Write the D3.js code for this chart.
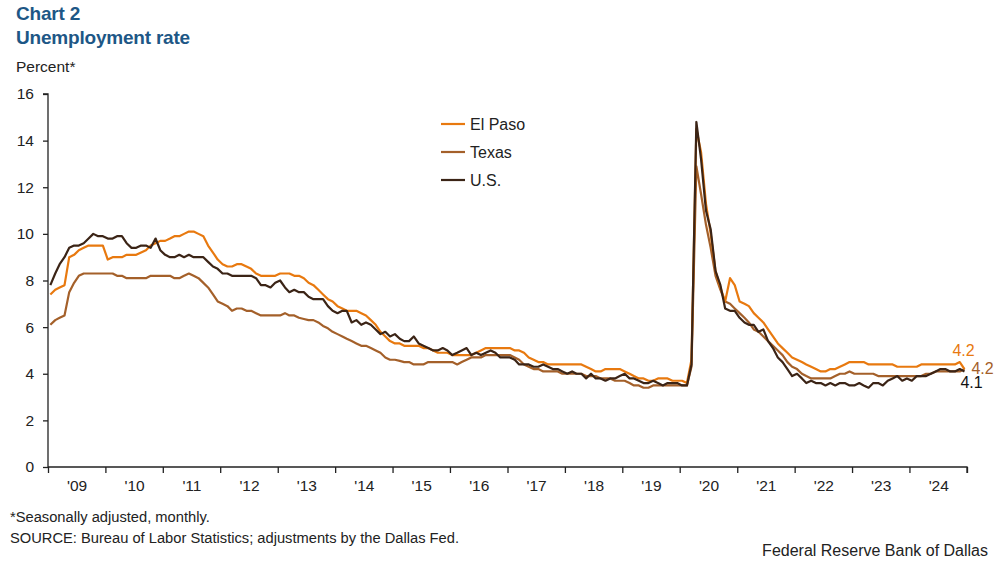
<!DOCTYPE html>
<html><head><meta charset="utf-8">
<script src="https://cdn.jsdelivr.net/npm/d3@7"></script>
<style>
html,body{margin:0;padding:0;background:#fff;}
svg{display:block;font-family:"Liberation Sans",Arial,sans-serif;}
</style></head>
<body><svg id="chart" width="997" height="565"></svg>
<script>
// ---- data (monthly, Jan 2009 – Dec 2024) ----
const startYear = 2009;
const yearLabels = ["'09","'10","'11","'12","'13","'14","'15","'16","'17","'18","'19","'20","'21","'22","'23","'24"];
const yTicks = [0,2,4,6,8,10,12,14,16];
const seriesNames = ["El Paso","Texas","U.S."];
const elPaso = [
7.4,7.6,7.7,7.8,9.0,9.1,9.3,9.4,9.5,9.5,9.5,9.5,
8.9,9.0,9.0,9.0,9.1,9.1,9.1,9.2,9.3,9.5,9.6,9.7,
9.7,9.8,9.9,9.9,10.0,10.1,10.1,10.0,9.9,9.5,9.2,8.9,
8.7,8.6,8.6,8.7,8.7,8.6,8.5,8.3,8.2,8.2,8.2,8.2,
8.3,8.3,8.3,8.2,8.2,8.1,7.9,7.8,7.6,7.4,7.2,7.1,
6.9,6.8,6.7,6.7,6.7,6.6,6.5,6.3,6.1,5.8,5.6,5.4,
5.3,5.3,5.2,5.2,5.2,5.2,5.1,5.1,5.0,4.9,4.9,4.9,
4.8,4.8,4.8,4.8,4.8,4.9,5.0,5.1,5.1,5.1,5.1,5.1,
5.1,5.0,5.0,4.9,4.7,4.6,4.5,4.5,4.4,4.4,4.4,4.4,
4.4,4.4,4.4,4.4,4.3,4.2,4.1,4.1,4.2,4.2,4.2,4.2,
4.1,4.0,3.9,3.8,3.8,3.7,3.7,3.8,3.8,3.8,3.7,3.7,
3.7,3.6,4.6,14.5,13.5,11.3,10.0,8.4,7.7,7.1,8.1,7.8,
7.1,7.0,6.9,6.6,6.4,6.2,5.9,5.6,5.3,5.1,4.9,4.7,
4.6,4.5,4.4,4.3,4.2,4.1,4.1,4.2,4.2,4.3,4.4,4.5,
4.5,4.5,4.5,4.4,4.4,4.4,4.4,4.4,4.4,4.3,4.3,4.3,
4.3,4.3,4.4,4.4,4.4,4.4,4.4,4.4,4.4,4.4,4.5,4.2];
const texas = [
6.1,6.3,6.4,6.5,7.5,7.9,8.2,8.3,8.3,8.3,8.3,8.3,
8.3,8.3,8.2,8.2,8.1,8.1,8.1,8.1,8.1,8.2,8.2,8.2,
8.2,8.2,8.1,8.1,8.2,8.3,8.2,8.1,7.9,7.7,7.4,7.1,
7.0,6.9,6.7,6.8,6.8,6.7,6.7,6.6,6.5,6.5,6.5,6.5,
6.5,6.6,6.5,6.5,6.4,6.35,6.3,6.3,6.2,6.05,5.95,5.8,
5.7,5.6,5.5,5.4,5.3,5.2,5.2,5.1,5.0,4.9,4.7,4.6,
4.6,4.55,4.5,4.5,4.4,4.4,4.4,4.5,4.5,4.5,4.5,4.5,
4.5,4.4,4.5,4.6,4.7,4.7,4.7,4.8,4.8,4.8,4.8,4.8,
4.8,4.7,4.6,4.4,4.3,4.2,4.2,4.1,4.1,4.1,4.1,4.0,
4.0,4.0,4.0,4.0,3.9,3.9,3.9,3.8,3.8,3.8,3.7,3.7,
3.7,3.6,3.5,3.5,3.4,3.4,3.5,3.5,3.5,3.5,3.5,3.5,
3.5,3.5,4.3,12.9,11.7,10.4,9.4,8.2,7.6,7.1,7.0,6.8,
6.6,6.4,6.2,5.9,5.8,5.6,5.4,5.2,5.0,4.8,4.5,4.3,
4.2,4.0,3.9,3.8,3.8,3.8,3.8,3.8,3.9,4.0,4.0,4.1,
4.0,4.0,4.0,4.0,4.0,3.9,3.9,3.9,3.9,3.9,3.9,3.9,
3.9,3.9,3.9,4.0,4.0,4.1,4.1,4.1,4.1,4.1,4.1,4.2];
const us = [
7.8,8.3,8.7,9.0,9.4,9.5,9.5,9.6,9.8,10.0,9.9,9.9,
9.8,9.8,9.9,9.9,9.6,9.4,9.4,9.5,9.5,9.4,9.8,9.3,
9.1,9.0,9.0,9.1,9.0,9.1,9.0,9.0,9.0,8.8,8.6,8.5,
8.3,8.3,8.2,8.2,8.2,8.2,8.2,8.1,7.8,7.8,7.7,7.9,
8.0,7.7,7.5,7.6,7.5,7.5,7.3,7.2,7.2,7.2,6.9,6.7,
6.6,6.7,6.7,6.2,6.3,6.1,6.2,6.1,5.9,5.7,5.8,5.6,
5.7,5.5,5.4,5.4,5.6,5.3,5.2,5.1,5.0,5.0,5.1,5.0,
4.8,4.9,5.0,5.1,4.8,4.9,4.8,4.9,5.0,4.9,4.7,4.7,
4.7,4.6,4.4,4.4,4.4,4.3,4.3,4.4,4.3,4.2,4.2,4.1,
4.0,4.1,4.0,4.0,3.8,4.0,3.8,3.8,3.7,3.8,3.8,3.9,
4.0,3.8,3.8,3.7,3.6,3.6,3.7,3.6,3.5,3.6,3.6,3.6,
3.5,3.5,4.4,14.8,13.2,11.0,10.2,8.4,7.8,6.8,6.7,6.7,
6.4,6.2,6.1,6.1,5.8,5.9,5.4,5.1,4.7,4.5,4.2,3.9,
4.0,3.8,3.6,3.7,3.6,3.6,3.5,3.6,3.5,3.6,3.6,3.5,
3.5,3.6,3.5,3.4,3.6,3.6,3.5,3.7,3.8,3.9,3.7,3.8,
3.7,3.9,3.9,3.9,4.0,4.1,4.2,4.2,4.1,4.1,4.2,4.1];
const colors = ["#E8790F","#A4602A","#3B2416"];

// ---- layout ----
const svg = d3.select("#chart");
const m = {left:48, right:967, top:94, bottom:467};
const x = d3.scaleTime().domain([new Date(startYear,0,1), new Date(startYear+yearLabels.length,0,1)]).range([m.left,m.right]);
const y = d3.scaleLinear().domain([0,16]).range([m.bottom,m.top]);
const dateOf = i => new Date(startYear + Math.floor(i/12), i%12, 16);

// titles
const blue = "#1D5786";
svg.append("text").attr("x",16).attr("y",20).attr("fill",blue).attr("font-weight","bold").attr("font-size",19).attr("letter-spacing",-0.2).text("Chart 2");
svg.append("text").attr("x",16).attr("y",44).attr("fill",blue).attr("font-weight","bold").attr("font-size",19).attr("letter-spacing",-0.2).text("Unemployment rate");
svg.append("text").attr("x",16).attr("y",72).attr("fill","#222").attr("font-size",15.5).text("Percent*");

// y axis
const yAx = svg.append("g").attr("transform",`translate(${m.left},0)`)
  .call(d3.axisLeft(y).tickValues(yTicks).tickSize(5).tickPadding(9).tickFormat(d3.format("d")));
yAx.select(".domain").attr("d",`M-5,${m.top}H0V${m.bottom}`);
// x axis
const xAx = svg.append("g").attr("transform",`translate(0,${m.bottom})`)
  .call(d3.axisBottom(x).ticks(d3.timeYear.every(1)).tickSize(6).tickFormat(""));
xAx.select(".domain").attr("d",`M${m.left},0H${m.right}V6`);
const midDates = yearLabels.map((_,k)=>new Date(startYear+k,6,2));
const xLab = svg.append("g").attr("transform",`translate(0,${m.bottom})`)
  .call(d3.axisBottom(x).tickValues(midDates).tickSize(0).tickPadding(13).tickFormat((d,k)=>yearLabels[k]));
xLab.select(".domain").remove();
svg.selectAll(".tick text").attr("font-size",15.5).attr("fill","#222").attr("font-family","Liberation Sans, Arial, sans-serif");
svg.selectAll(".domain, .tick line").attr("stroke","#222").attr("stroke-width",1.3);

// lines
const line = d3.line().x((d,i)=>x(dateOf(i))).y(d=>y(d));
const data = [elPaso, texas, us];
// draw Texas, El Paso, then U.S. on top
[1,0,2].forEach(k=>{
  svg.append("path").datum(data[k]).attr("d",line).attr("fill","none")
    .attr("stroke",colors[k]).attr("stroke-width",2.2).attr("stroke-linejoin","round");
});

// legend
seriesNames.forEach((n,k)=>{
  const ly = 124 + k*28;
  svg.append("line").attr("x1",441).attr("x2",465).attr("y1",ly).attr("y2",ly).attr("stroke",colors[k]).attr("stroke-width",2.2);
  svg.append("text").attr("x",470).attr("y",ly+5.5).attr("font-size",16).attr("fill","#222").text(n);
});

// end labels
const last = elPaso.length-1;
const endLab = [
  {v:elPaso[last], c:colors[0], dx:-12, yy:356},
  {v:texas[last], c:colors[1], dx:7, yy:374},
  {v:us[last], c:"#111", dx:-4, yy:388}];
endLab.forEach(e=>{
  svg.append("text").attr("x",x(dateOf(last))+e.dx).attr("y",e.yy).attr("font-size",16).attr("fill",e.c).text(d3.format(".1f")(e.v));
});

// footnotes
svg.append("text").attr("x",10).attr("y",522).attr("font-size",14.7).attr("fill","#222").text("*Seasonally adjusted, monthly.");
svg.append("text").attr("x",10).attr("y",543).attr("font-size",14.7).attr("fill","#222").text("SOURCE: Bureau of Labor Statistics; adjustments by the Dallas Fed.");
svg.append("text").attr("x",988).attr("y",556).attr("text-anchor","end").attr("font-size",16).attr("fill","#222").text("Federal Reserve Bank of Dallas");
</script></body></html>
